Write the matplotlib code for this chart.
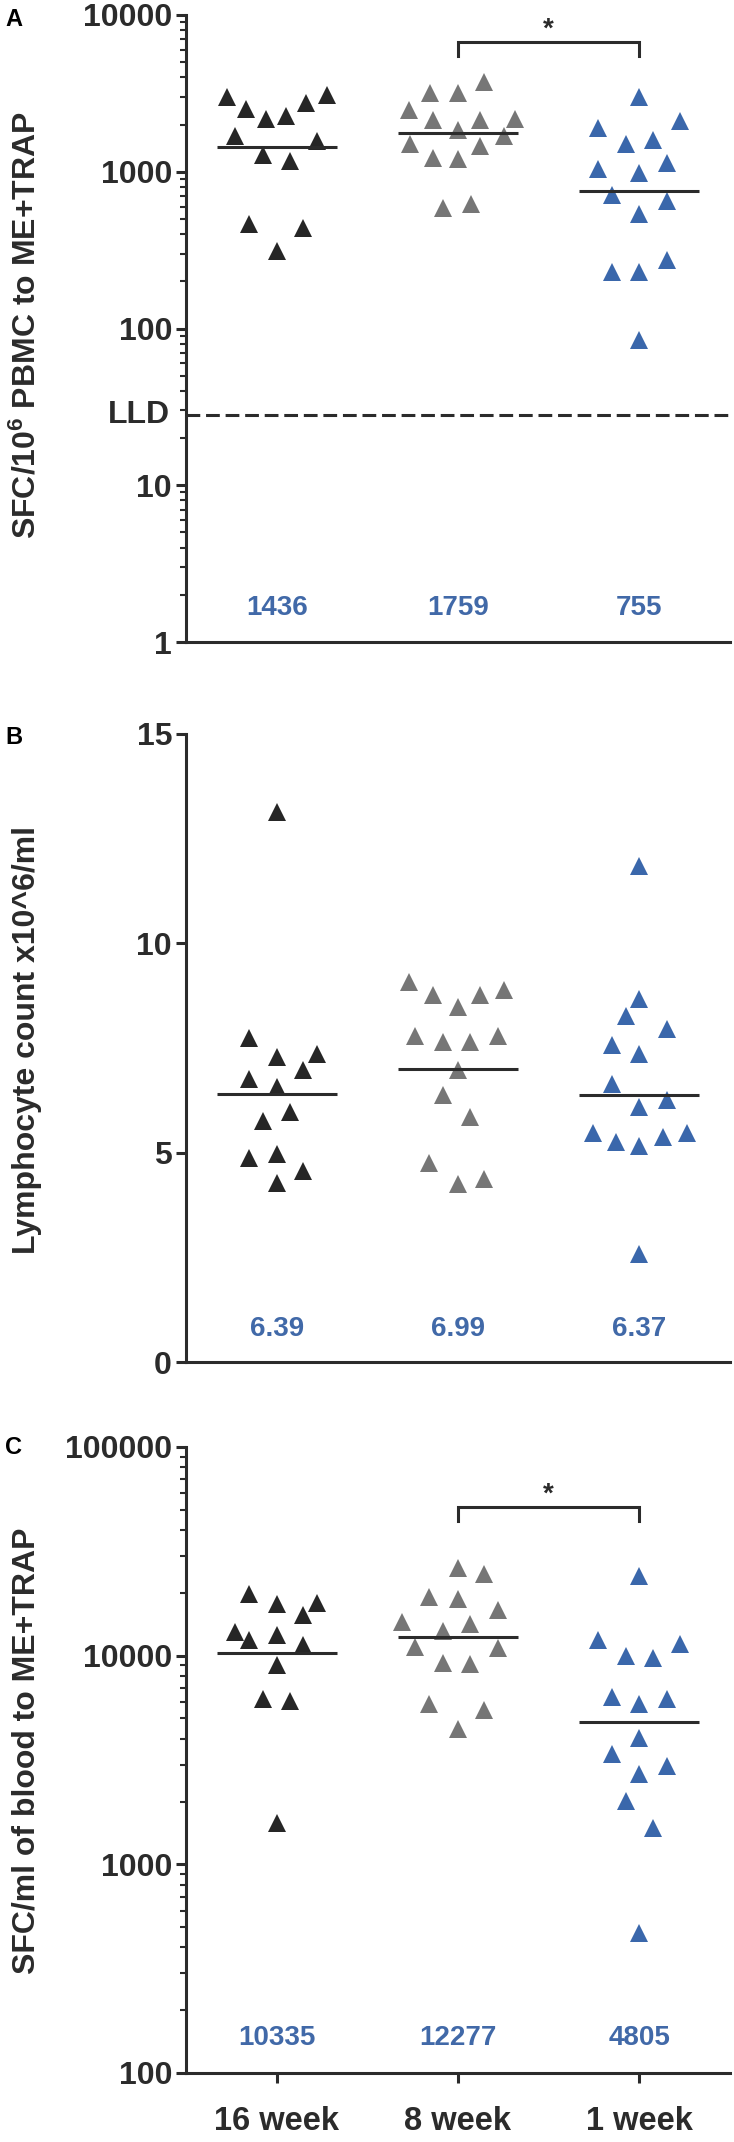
import matplotlib
matplotlib.use("Agg")
import matplotlib.pyplot as plt
import matplotlib.transforms as mtransforms
from matplotlib.ticker import FixedLocator, LogLocator, NullFormatter, NullLocator

plt.rcParams['font.family'] = ['Liberation Sans', 'DejaVu Sans']
plt.rcParams['font.weight'] = 'bold'
plt.rcParams['mathtext.fontset'] = 'custom'
plt.rcParams['mathtext.rm'] = 'Liberation Sans:bold'
plt.rcParams['mathtext.bf'] = 'Liberation Sans:bold'
plt.rcParams['mathtext.it'] = 'Liberation Sans:bold'
plt.rcParams['mathtext.default'] = 'rm'

# ---------------- data ----------------
groups = ["16 week", "8 week", "1 week"]

# Panel A: SFC/10^6 PBMC to ME+TRAP
A_16w = [3013, 2508, 2173, 2262, 2729, 3076, 1703, 1574, 1285, 1172, 466, 436, 310]
A_16w_jit = [-0.276, -0.168, -0.059, 0.052, 0.163, 0.276, -0.232, 0.222, -0.077, 0.072, -0.155, 0.147, 0.0]
A_8w = [3741, 3177, 3177, 2490, 2142, 2142, 2185, 1854, 1703, 1494, 1465, 1219, 1203, 585, 625]
A_8w_jit = [0.142, -0.155, 0.0, -0.268, -0.137, 0.124, 0.317, 0.0, 0.253, -0.266, 0.124, -0.137, 0.0, -0.083, 0.072]
A_1w = [3013, 2113, 1905, 1494, 1596, 1042, 989, 1142, 713, 650, 534, 231, 228, 272, 84]
A_1w_jit = [0.0, 0.227, -0.227, -0.075, 0.075, -0.227, 0.0, 0.152, -0.152, 0.152, 0.0, -0.152, 0.0, 0.152, 0.0]
A_center = [1436, 1759, 755]
A_lld = 28

# Panel B: Lymphocyte count x10^6/ml
B_16w = [13.14, 7.75, 7.28, 7.36, 6.76, 6.98, 6.57, 5.76, 5.97, 4.87, 4.97, 4.57, 4.28]
B_16w_jit = [0.0, -0.155, 0.0, 0.222, -0.155, 0.147, 0.0, -0.077, 0.072, -0.155, 0.0, 0.147, 0.0]
B_8w = [9.07, 8.77, 8.47, 8.77, 8.88, 7.79, 7.65, 7.65, 7.79, 6.98, 6.37, 5.86, 4.76, 4.26, 4.37]
B_8w_jit = [-0.268, -0.137, 0.0, 0.124, 0.253, -0.237, -0.083, 0.067, 0.222, 0.0, -0.083, 0.067, -0.16, 0.0, 0.145]
B_1w = [11.85, 8.67, 8.26, 7.96, 7.57, 7.36, 6.65, 6.26, 6.08, 5.46, 5.26, 5.17, 5.37, 5.48, 2.57]
B_1w_jit = [0.0, 0.0, -0.075, 0.152, -0.152, 0.0, -0.152, 0.152, 0.0, -0.258, -0.126, 0.0, 0.132, 0.261, 0.0]
B_center = [6.39, 6.99, 6.37]

# Panel C: SFC/ml of blood to ME+TRAP
C_16w = [19720, 17760, 17950, 15590, 13000, 12530, 11830, 11290, 9020, 6170, 6040, 1578]
C_16w_jit = [-0.155, 0.0, 0.222, 0.147, -0.232, 0.0, -0.155, 0.147, 0.0, -0.077, 0.072, 0.0]
C_8w = [26230, 24650, 19190, 18700, 16600, 14570, 14260, 13190, 11000, 10900, 9260, 9120, 5890, 5470, 4470]
C_8w_jit = [0.0, 0.145, -0.16, 0.0, 0.222, -0.31, 0.067, -0.083, -0.237, 0.222, -0.083, 0.067, -0.16, 0.145, 0.0]
C_1w = [24030, 11830, 11350, 10010, 9760, 6330, 5890, 6200, 4030, 3390, 2950, 2700, 2015, 1497, 469]
C_1w_jit = [0.0, -0.227, 0.227, -0.075, 0.075, -0.152, 0.0, 0.152, 0.0, -0.152, 0.152, 0.0, -0.075, 0.075, 0.0]
C_center = [10335, 12277, 4805]

# ---------------- style ----------------
W, H = 734, 2142
AX_COLOR = '#2b2b2b'
colors = ['#262626', '#767676', '#3a67ab']
NUM_COLOR = '#4169a8'
LW = 2.2
TICK_FS = 23
LABEL_FS = 23

fig = plt.figure(figsize=(W / 100, H / 100), dpi=100)


def add_ax(top_px, bot_px):
    left, right = 186, 730
    return fig.add_axes([left / W, 1 - bot_px / H, (right - left) / W, (bot_px - top_px) / H])


def style(ax, log, yticks, xlabels=False):
    for s in ['top', 'right']:
        ax.spines[s].set_visible(False)
    for s in ['left', 'bottom']:
        ax.spines[s].set_linewidth(LW)
        ax.spines[s].set_color(AX_COLOR)
        ax.spines[s].set_capstyle('projecting')
    ax.set_xlim(-0.5, 2.5)
    if log:
        ax.set_yscale('log')
        ax.yaxis.set_minor_locator(LogLocator(base=10, subs=range(2, 10)))
        ax.yaxis.set_minor_formatter(NullFormatter())
    else:
        ax.yaxis.set_minor_locator(NullLocator())
    ax.yaxis.set_major_locator(FixedLocator(yticks))
    ax.set_yticklabels([str(t) for t in yticks])
    ax.tick_params(axis='y', which='major', length=7, width=LW, color=AX_COLOR,
                   labelsize=TICK_FS, pad=3, labelcolor=AX_COLOR)
    ax.tick_params(axis='y', which='minor', length=4.3, width=1.5, color=AX_COLOR)
    if xlabels:
        ax.set_xticks(range(len(groups)))
        ax.set_xticklabels(groups)
        ax.tick_params(axis='x', which='major', length=7, width=LW, color=AX_COLOR,
                       labelsize=23.5, pad=17, labelcolor=AX_COLOR)
    else:
        ax.set_xticks([])
    ax.tick_params(axis='x', which='minor', length=0)
    for lab in ax.get_yticklabels() + ax.get_xticklabels():
        lab.set_fontweight('bold')


def draw_points(ax, series, jits, centers):
    for i, (vals, jit) in enumerate(zip(series, jits)):
        xs = [i + j for j in jit]
        ax.plot(xs, vals, linestyle='none', marker='^', markersize=13.5,
                markeredgewidth=0, color=colors[i], zorder=3)
        ax.plot([i - 0.33, i + 0.33], [centers[i], centers[i]], color=AX_COLOR,
                lw=LW, solid_capstyle='butt', zorder=4)


def draw_numbers(ax, centers, y, fmt):
    for i, c in enumerate(centers):
        ax.text(i, y, fmt(c), ha='center', va='baseline', color=NUM_COLOR,
                fontsize=20, fontweight='bold')


def bracket(ax, lo, hi):
    ax.plot([1, 1, 2, 2], [lo, hi, hi, lo], color=AX_COLOR, lw=LW,
            solid_joinstyle='miter', zorder=4)
    ax.annotate('*', xy=(1.5, hi), xytext=(0, 4), textcoords='offset points',
                ha='center', va='baseline', fontsize=20, fontweight='bold', color=AX_COLOR)


# ---------------- Panel A ----------------
axA = add_ax(15, 642)
axA.set_ylim(1, 10000)
style(axA, True, [1, 10, 100, 1000, 10000])
draw_points(axA, [A_16w, A_8w, A_1w], [A_16w_jit, A_8w_jit, A_1w_jit], A_center)
axA.axhline(A_lld, color=AX_COLOR, lw=LW, dashes=(4.5, 1.9), zorder=2)
trA = mtransforms.blended_transform_factory(axA.transAxes, axA.transData)
axA.text(-0.0294, A_lld, 'LLD', transform=trA, ha='right', va='center',
         fontsize=TICK_FS, fontweight='bold', color=AX_COLOR)
draw_numbers(axA, A_center, 1.49, lambda v: f"{v:d}")
bracket(axA, 5500, 6680)

# ---------------- Panel B ----------------
axB = add_ax(734, 1362)
axB.set_ylim(0, 15)
style(axB, False, [0, 5, 10, 15])
draw_points(axB, [B_16w, B_8w, B_1w], [B_16w_jit, B_8w_jit, B_1w_jit], B_center)
draw_numbers(axB, B_center, 0.62, lambda v: f"{v:.2f}")

# ---------------- Panel C ----------------
axC = add_ax(1447, 2073)
axC.set_ylim(100, 100000)
style(axC, True, [100, 1000, 10000, 100000], xlabels=True)
draw_points(axC, [C_16w, C_8w, C_1w], [C_16w_jit, C_8w_jit, C_1w_jit], C_center)
draw_numbers(axC, C_center, 136, lambda v: f"{v:d}")
bracket(axC, 44200, 51300)

# ---------------- labels ----------------
ylabels = [(r'SFC/10$^{6}$ PBMC to ME+TRAP', 325),
           ('Lymphocyte count x10^6/ml', 1040),
           ('SFC/ml of blood to ME+TRAP', 1751)]
for text, yc in ylabels:
    fig.text(27 / W, 1 - yc / H, text, rotation=90, ha='center', va='center',
             fontsize=LABEL_FS, fontweight='bold', color=AX_COLOR)

for letter, yc in [('A', 20), ('B', 737), ('C', 1447)]:
    fig.text(14 / W, 1 - yc / H, letter, ha='center', va='center',
             fontsize=17, fontweight='bold', color='black')

fig.savefig('out.png', dpi=100)
